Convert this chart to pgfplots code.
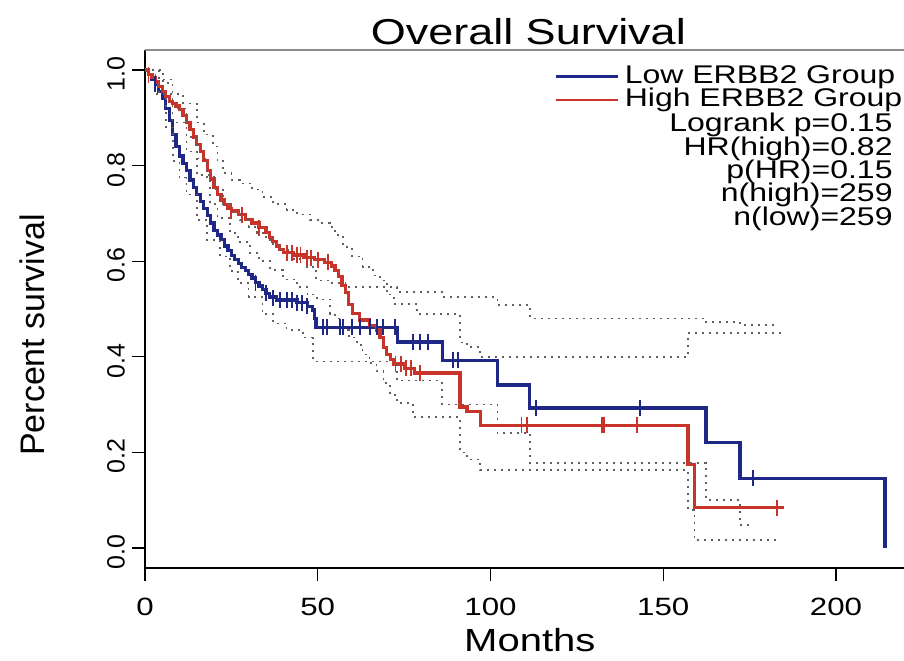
\documentclass[border=0pt]{standalone}
\usepackage{pgfplots}
\pgfplotsset{compat=1.18}
\usepackage{fontspec}
\setmainfont{Liberation Sans}[FakeStretch=1.25]
\newfontfamily\plainfont{Liberation Sans}
\definecolor{lowblue}{RGB}{32,40,135}
\definecolor{highred}{RGB}{200,52,42}
\definecolor{cigray}{RGB}{95,95,95}
\definecolor{framegray}{RGB}{140,140,140}
\begin{document}
\begin{tikzpicture}
\useasboundingbox (-72.5pt,-46pt) rectangle (379.5pt,284pt);
\begin{axis}[
  at={(0pt,0pt)}, anchor=south west,
  scale only axis, width=379.5pt, height=259pt,
  xmin=0, xmax=219.7, ymin=-0.042, ymax=1.042,
  axis x line*=bottom, axis y line*=left,
  axis line style={black, line width=0.7pt, -},
  xtick={0,50,100,150,200},
  xticklabels={0,50,100,150,200},
  ytick={0,0.2,0.4,0.6,0.8,1.0},
  yticklabels={0.0,0.2,0.4,0.6,0.8,1.0},
  tick align=outside, major tick length=6.5pt,
  tick style={black, line width=0.7pt},
  xticklabel style={font=\fontsize{12.5}{14}\selectfont, yshift=-5pt},
  yticklabel style={font=\plainfont\fontsize{12.5}{14}\selectfont, rotate=90, anchor=south, xshift=-2pt},
  xlabel={Months},
  xlabel style={font=\fontsize{16}{18}\selectfont, at={(axis description cs:0.507,-0.14)}, anchor=center, inner sep=0pt},
  ylabel={Percent survival},
  ylabel style={font=\plainfont\fontsize{17}{19}\selectfont, at={(axis description cs:-0.149,0.45)}, anchor=center, rotate=0, inner sep=0pt},
  clip=false,
  legend style={draw=none, fill=none, at={(axis description cs:0.531,0.98)}, anchor=north west,
    font=\fontsize{12.8}{12}\selectfont, legend cell align=left,
    nodes={inner ysep=0pt, inner xsep=3pt, text height=9.2pt, text depth=2.5pt},
    row sep=0pt},
  legend image code/.code={\draw[#1, line width=1.2pt] (0pt,0pt) -- (31pt,0pt);},
]
% frame top line
\draw[framegray, line width=1pt] (rel axis cs:0,1) -- (rel axis cs:1,1);

% Low group
\addplot[const plot, lowblue, line width=1.6pt] coordinates {
(0,1.0) (1,0.99) (2,0.98) (3,0.97) (4,0.955) (5,0.94) (6,0.92) (7,0.895) (8,0.865) (9,0.84)
(10,0.82) (11,0.805) (12,0.79) (13,0.77) (14,0.755) (15,0.74) (16,0.725) (17,0.71) (18,0.695) (19,0.68)
(20,0.665) (21,0.655) (22,0.645) (23,0.632) (24,0.622) (25,0.612) (26,0.603) (27,0.595) (28,0.587) (29,0.58)
(30,0.573) (31,0.565) (32,0.555) (33,0.548) (34,0.54) (35,0.533) (36,0.525) (38,0.519) (44,0.513) (47,0.506)
(48.5,0.498) (49,0.48) (49.5,0.462) (73,0.431) (86,0.393) (102,0.341) (111.4,0.293) (162.4,0.22) (172.2,0.146) (214.2,0.0)
};
\addlegendentry{Low ERBB2 Group}
% High group
\addplot[const plot, highred, line width=1.6pt] coordinates {
(0,1.0) (1,0.99) (2,0.985) (3,0.975) (4,0.965) (5,0.955) (6,0.945) (7,0.935) (8,0.93) (9,0.925)
(10,0.918) (11,0.905) (12,0.89) (13,0.875) (14,0.86) (15,0.845) (16,0.83) (17,0.81) (18,0.79) (19,0.772)
(20,0.755) (21,0.74) (22,0.728) (23,0.718) (24,0.71) (25,0.705) (27,0.697) (29,0.688) (31,0.68) (33,0.67)
(35,0.66) (36,0.65) (37,0.642) (38,0.632) (39,0.625) (40,0.618) (43,0.613) (46,0.607) (49,0.603) (52,0.598)
(54,0.59) (55,0.58) (56,0.568) (57,0.55) (58,0.535) (59,0.51) (60,0.49) (62,0.477) (65,0.465) (67,0.456)
(68,0.44) (69,0.42) (70,0.405) (71,0.395) (72,0.385) (75,0.376) (78,0.366) (91.2,0.295) (93.2,0.285) (97,0.257)
(157.2,0.174) (159,0.084) (185,0.084)
};
\addlegendentry{High ERBB2 Group}

% confidence bands (dotted)
\addplot[const plot, cigray, line width=0.8pt, dash pattern=on 1pt off 2.5pt, forget plot] coordinates {
(0,1.0) (4,0.98) (8,0.92) (12,0.86) (15,0.815) (18,0.776) (20,0.75) (22.6,0.72) (25,0.703) (27.5,0.686)
(30,0.672) (32.4,0.659) (35,0.645) (37,0.633) (39,0.623) (43,0.605) (46.9,0.588) (49.5,0.56) (53.5,0.554) (58,0.546)
(73,0.535) (86,0.525) (102,0.508) (111.4,0.48) (162.4,0.473) (172.2,0.466) (182,0.466)
};
\addplot[const plot, cigray, line width=0.8pt, dash pattern=on 1pt off 2.5pt, forget plot] coordinates {
(0,1.0) (3,0.95) (6,0.88) (8.1,0.81) (10,0.775) (12,0.74) (15,0.686) (18,0.645) (21.7,0.61) (24.6,0.58)
(27,0.555) (30,0.525) (34,0.49) (37,0.47) (41,0.456) (45.8,0.44) (48.6,0.39) (73,0.35) (86,0.3) (102,0.24)
(111.4,0.178) (162.4,0.1) (172.2,0.048) (176,0.048)
};
\addplot[const plot, cigray, line width=0.8pt, dash pattern=on 1pt off 2.5pt, forget plot] coordinates {
(0,1.0) (5.2,0.973) (8,0.95) (11,0.93) (15,0.89) (17,0.865) (19.7,0.84) (21,0.81) (22.6,0.785) (25,0.77)
(27.5,0.763) (31,0.75) (34,0.734) (37,0.72) (41,0.707) (44,0.698) (47.8,0.686) (50,0.68) (53.5,0.672) (55,0.655)
(57.3,0.63) (60,0.61) (63,0.588) (66,0.57) (68,0.56) (70,0.53) (72,0.51) (78.7,0.49) (91.2,0.43) (93.2,0.42)
(97,0.40) (157.2,0.45) (184,0.452)
};
\addplot[const plot, cigray, line width=0.8pt, dash pattern=on 1pt off 2.5pt, forget plot] coordinates {
(0,1.0) (4,0.95) (8,0.89) (12,0.83) (15,0.78) (18.8,0.72) (21,0.69) (24.6,0.659) (27,0.64) (30.4,0.617)
(33,0.6) (36.2,0.582) (40,0.562) (44,0.546) (47,0.53) (49.8,0.52) (53.5,0.49) (55,0.48) (57.3,0.456) (59,0.44)
(61.4,0.425) (63,0.405) (65,0.387) (67,0.37) (69,0.345) (71,0.32) (73,0.303) (77.6,0.274) (91.2,0.2) (93.2,0.185)
(97,0.163) (157.2,0.08) (159,0.017) (184,0.017)
};

% censoring marks
\addplot[only marks, mark=|, mark size=4pt, lowblue, line width=0.9pt, forget plot] coordinates {
(3,0.97) (32,0.555) (35,0.533) (37,0.522) (39,0.519) (41,0.519) (42.5,0.519) (44,0.513) (45.5,0.513) (47,0.506)
(51.5,0.462) (52.7,0.462) (56.4,0.462) (57.3,0.462) (60,0.462) (62.2,0.462) (65.1,0.462) (67.1,0.462) (69,0.462) (72.4,0.462)
(77.6,0.431) (79.6,0.431) (81.9,0.431) (89.2,0.393) (90.6,0.393) (113.2,0.293) (143.3,0.293) (176,0.146)
};
\addplot[only marks, mark=|, mark size=4pt, highred, line width=0.9pt, forget plot] coordinates {
(1,0.99) (25,0.705) (28,0.697) (33,0.67) (41,0.618) (42.5,0.618) (44,0.613) (45,0.613) (47,0.607) (48,0.607)
(50,0.603) (53,0.598) (72.5,0.385) (74,0.385) (75.5,0.376) (77,0.376) (79.5,0.366) (109,0.257) (110.5,0.257) (132.3,0.257)
(132.8,0.257) (142.4,0.257) (183,0.084)
};

% stats text
\node[anchor=base east, inner sep=0pt, font=\fontsize{12.8}{12}\selectfont] at (axis description cs:0.9855,0.842) {Logrank p=0.15};
\node[anchor=base east, inner sep=0pt, font=\fontsize{12.8}{12}\selectfont] at (axis description cs:0.9855,0.797) {HR(high)=0.82};
\node[anchor=base east, inner sep=0pt, font=\fontsize{12.8}{12}\selectfont] at (axis description cs:0.9855,0.751) {p(HR)=0.15};
\node[anchor=base east, inner sep=0pt, font=\fontsize{12.8}{12}\selectfont] at (axis description cs:0.9855,0.707) {n(high)=259};
\node[anchor=base east, inner sep=0pt, font=\fontsize{12.8}{12}\selectfont] at (axis description cs:0.9855,0.662) {n(low)=259};
% title
\node[anchor=center, inner sep=0pt, font=\fontsize{18}{20}\selectfont] at (axis description cs:0.505,1.035) {Overall Survival};
\end{axis}
\end{tikzpicture}
\end{document}
